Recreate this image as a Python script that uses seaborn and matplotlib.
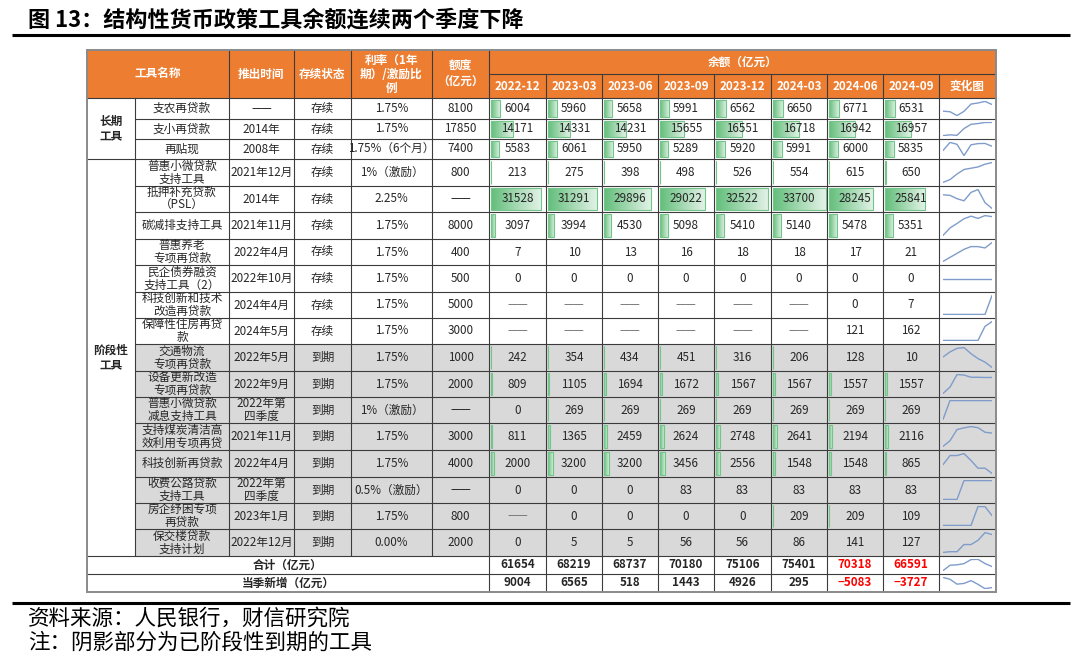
import numpy as np
import matplotlib
matplotlib.use('Agg')
import matplotlib.pyplot as plt
import seaborn as sns
from matplotlib.patches import Rectangle
from matplotlib.colors import LinearSegmentedColormap

sns.set_theme(style='white')
plt.rcParams['font.family'] = ['Noto Sans CJK SC', 'DejaVu Sans']

# ---- data ----
quarters = ['2022-12', '2023-03', '2023-06', '2023-09', '2023-12', '2024-03', '2024-06', '2024-09']

tool_names = ['支农再贷款', '支小再贷款', '再贴现',
              '普惠小微贷款\n支持工具', '抵押补充贷款\n（PSL）', '碳减排支持工具',
              '普惠养老\n专项再贷款', '民企债券融资\n支持工具（2）', '科技创新和技术\n改造再贷款',
              '保障性住房再贷\n款', '交通物流\n专项再贷款', '设备更新改造\n专项再贷款',
              '普惠小微贷款\n减息支持工具', '支持煤炭清洁高\n效利用专项再贷', '科技创新再贷款',
              '收费公路贷款\n支持工具', '房企纾困专项\n再贷款', '保交楼贷款\n支持计划']
launch = ['——', '2014年', '2008年', '2021年12月', '2014年', '2021年11月', '2022年4月',
          '2022年10月', '2024年4月', '2024年5月', '2022年5月', '2022年9月', '2022年第\n四季度',
          '2021年11月', '2022年4月', '2022年第\n四季度', '2023年1月', '2022年12月']
status = ['存续'] * 10 + ['到期'] * 8
rates = ['1.75%', '1.75%', '1.75%（6个月）', '1%（激励）', '2.25%', '1.75%', '1.75%', '1.75%',
         '1.75%', '1.75%', '1.75%', '1.75%', '1%（激励）', '1.75%', '1.75%', '0.5%（激励）',
         '1.75%', '0.00%']
quota = ['8100', '17850', '7400', '800', '——', '8000', '400', '500', '5000', '3000', '1000',
         '2000', '——', '3000', '4000', '——', '800', '2000']

balances = [
    [6004, 5960, 5658, 5991, 6562, 6650, 6771, 6531],
    [14171, 14331, 14231, 15655, 16551, 16718, 16942, 16957],
    [5583, 6061, 5950, 5289, 5920, 5991, 6000, 5835],
    [213, 275, 398, 498, 526, 554, 615, 650],
    [31528, 31291, 29896, 29022, 32522, 33700, 28245, 25841],
    [3097, 3994, 4530, 5098, 5410, 5140, 5478, 5351],
    [7, 10, 13, 16, 18, 18, 17, 21],
    [0, 0, 0, 0, 0, 0, 0, 0],
    [None, None, None, None, None, None, 0, 7],
    [None, None, None, None, None, None, 121, 162],
    [242, 354, 434, 451, 316, 206, 128, 10],
    [809, 1105, 1694, 1672, 1567, 1567, 1557, 1557],
    [0, 269, 269, 269, 269, 269, 269, 269],
    [811, 1365, 2459, 2624, 2748, 2641, 2194, 2116],
    [2000, 3200, 3200, 3456, 2556, 1548, 1548, 865],
    [0, 0, 0, 83, 83, 83, 83, 83],
    [None, 0, 0, 0, 0, 209, 209, 109],
    [0, 5, 5, 56, 56, 86, 141, 127],
]
total = [61654, 68219, 68737, 70180, 75106, 75401, 70318, 66591]
new_add = [9004, 6565, 518, 1443, 4926, 295, -5083, -3727]
red_flag = [False] * 6 + [True, True]

# ---- layout (pixels) ----
W, H = 1080, 667
col_edges = [87, 135, 229, 294, 351, 432, 489, 546, 602, 658, 714, 771, 827, 883, 939, 996]
row_edges = [98, 119, 139, 159, 186, 212, 239, 265, 292, 318, 344, 371, 397, 423, 450, 477,
             503, 529, 556, 574, 592]
top, mid = 50, 74
orange = '#ED7D31'
gray = '#D9D9D9'
line_c = '#3c3c3c'
txt_c = '#262626'
spark_c = '#7F9CCB'
fs = 8.4

fig = plt.figure(figsize=(W / 100, H / 100), dpi=100)
ax = fig.add_axes([0, 0, 1, 1])

# title & rules
ax.text(28, 20, '图 13：结构性货币政策工具余额连续两个季度下降', ha='left', va='center',
        fontsize=15.9, fontweight='bold', color='black')
ax.plot([12, 1070], [35, 35], color='black', lw=2.2, solid_capstyle='butt')
ax.plot([12, 1070], [603, 603], color='black', lw=2.2, solid_capstyle='butt')
ax.text(28, 619, '资料来源：人民银行，财信研究院', ha='left', va='center', fontsize=15.5,
        style='italic', color='black')
ax.text(28, 643, '注：阴影部分为已阶段性到期的工具', ha='left', va='center', fontsize=15.5,
        style='italic', color='black')

L, R = col_edges[0], col_edges[-1]
# header fill and shaded rows
ax.add_patch(Rectangle((L, top), R - L, row_edges[0] - top, fc=orange, ec='none', zorder=0))
for i in range(10, 18):
    ax.add_patch(Rectangle((col_edges[1], row_edges[i]), R - col_edges[1],
                           row_edges[i + 1] - row_edges[i], fc=gray, ec='none', zorder=0))

# data bars (gradient)
vmax = max(max(v for v in row if v is not None) for row in balances)
cmap = LinearSegmentedColormap.from_list('bar', ['#63BE7B', '#E4F3E8'])
grad = np.linspace(0, 1, 64)[None, :]
for i, row in enumerate(balances):
    y0, y1 = row_edges[i] + 2, row_edges[i + 1] - 2
    for j, v in enumerate(row):
        if v is None:
            continue
        cx0 = col_edges[6 + j] + 1.5
        w = v / vmax * (col_edges[7 + j] - col_edges[6 + j] - 3)
        if w < 0.3:
            continue
        ax.imshow(grad, extent=(cx0, cx0 + w, y1, y0), cmap=cmap, aspect='auto',
                  interpolation='bilinear', zorder=1)
        ax.add_patch(Rectangle((cx0, y0), w, y1 - y0, fill=False, ec='#72C68A', lw=0.8, zorder=2))

# grid lines
def hline(y, x0, x1):
    ax.plot([x0, x1], [y, y], color=line_c, lw=0.8, zorder=3)

def vline(x, y0, y1):
    ax.plot([x, x], [y0, y1], color=line_c, lw=0.8, zorder=3)

hline(mid, col_edges[6], R)
hline(row_edges[0], L, R)
for k in range(1, len(row_edges) - 1):
    y = row_edges[k]
    if k in (3, 18, 19):
        hline(y, L, R)
    else:
        hline(y, col_edges[1], R)
vline(col_edges[1], row_edges[0], row_edges[18])
for x in col_edges[2:6]:
    vline(x, top, row_edges[18])
vline(col_edges[6], top, row_edges[-1])
for x in col_edges[7:-1]:
    vline(x, mid, row_edges[-1])
ax.add_patch(Rectangle((L, top), R - L, row_edges[-1] - top, fill=False, ec='#8a8a8a',
                       lw=1.4, zorder=4))

def put(x, y, s, **kw):
    opts = dict(ha='center', va='center', fontsize=fs, color=txt_c, linespacing=1.0, zorder=5)
    opts.update(kw)
    ax.text(x, y, s, **opts)

def cx(c):
    return (col_edges[c] + col_edges[c + 1]) / 2

def cy(r):
    return (row_edges[r] + row_edges[r + 1]) / 2

# header text
hy = (top + row_edges[0]) / 2
hk = dict(color='white', fontweight='bold')
put((col_edges[0] + col_edges[2]) / 2, hy, '工具名称', **hk)
put(cx(2), hy, '推出时间', **hk)
put(cx(3), hy, '存续状态', **hk)
put(cx(4), hy, '利率（1年\n期）/激励比\n例', linespacing=1.1, **hk)
put(cx(5), hy, '额度\n（亿元）', linespacing=1.2, **hk)
put((col_edges[6] + R) / 2, (top + mid) / 2, '余额（亿元）', **hk)
for j, q in enumerate(quarters):
    put(cx(6 + j), (mid + row_edges[0]) / 2, q, **hk)
put(cx(14), (mid + row_edges[0]) / 2, '变化图', **hk)

# group labels
put(cx(0), (row_edges[0] + row_edges[3]) / 2, '长期\n工具', fontweight='bold', linespacing=1.2)
put(cx(0), (row_edges[3] + row_edges[18]) / 2, '阶段性\n工具', fontweight='bold', linespacing=1.2)

# body text
for i in range(18):
    y = cy(i)
    put(cx(1), y, tool_names[i])
    put(cx(2), y, launch[i])
    put(cx(3), y, status[i])
    put(cx(4), y, rates[i])
    put(cx(5), y, quota[i])
    for j, v in enumerate(balances[i]):
        put(cx(6 + j), y, '——' if v is None else str(v),
            color='#7a7a7a' if v is None else txt_c)

put((L + col_edges[6]) / 2, cy(18), '合计（亿元）', fontweight='bold')
put((L + col_edges[6]) / 2, cy(19), '当季新增（亿元）', fontweight='bold')
for j in range(8):
    c = '#FF0000' if red_flag[j] else txt_c
    put(cx(6 + j), cy(18), str(total[j]), fontweight='bold', color=c)
    s = str(new_add[j]).replace('-', '−')
    put(cx(6 + j), cy(19), s, fontweight='bold', color=c)

# sparklines
spark_rows = [[0 if v is None else v for v in row] for row in balances] + [total, new_add]
xs = np.arange(len(quarters))
for i, vals in enumerate(spark_rows):
    x0 = col_edges[14] + 4
    x1 = col_edges[15] - 4
    y0 = row_edges[i] + 3
    y1 = row_edges[i + 1] - 3
    sax = fig.add_axes([x0 / W, 1 - y1 / H, (x1 - x0) / W, (y1 - y0) / H])
    sns.lineplot(x=xs, y=vals, ax=sax, color=spark_c, lw=1.0)
    sax.set_xlim(0, len(quarters) - 1)
    sax.margins(y=0.03)
    sax.set_axis_off()

ax.set_xlim(0, W)
ax.set_ylim(H, 0)
ax.axis('off')
fig.savefig('out.png', dpi=100)
